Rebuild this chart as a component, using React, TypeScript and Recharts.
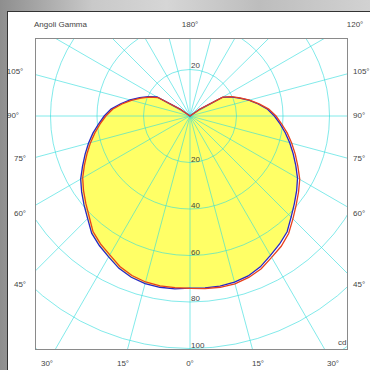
import React from "react";
import {
  RadarChart,
  Radar,
  PolarGrid,
  PolarAngleAxis,
  PolarRadiusAxis,
} from "recharts";

// gamma angles 0..180 step 5 (0 = straight down)
const gammaAngles = [
  0, 5, 10, 15, 20, 25, 30, 35, 40, 45, 50, 55, 60, 65, 70, 75, 80, 85, 90,
  95, 100, 105, 110, 115, 120, 125, 130, 135, 140, 145, 150, 155, 160, 165,
  170, 175, 180,
];

// candela, blue curve C0 (right half) and C180 (left half)
const c0 = [
  74.0, 74.2, 74.3, 74.0, 73.2, 71.6, 69.2, 67.2, 65.0, 61.5, 58.6, 56.0,
  53.4, 50.2, 47.2, 44.4, 41.6, 38.9, 36.3, 33.5, 29.8, 26.2, 22.6, 19.4,
  16.0, 5.0, 0, 0, 0, 0, 0, 0, 0, 0, 0, 0, 0,
];
const c180 = [
  74.2, 74.6, 74.8, 74.6, 73.8, 72.3, 70.0, 68.0, 65.8, 62.3, 59.5, 56.9,
  54.3, 51.0, 48.0, 45.2, 42.4, 39.5, 36.9, 34.1, 30.3, 26.7, 23.0, 19.8,
  16.4, 5.2, 0, 0, 0, 0, 0, 0, 0, 0, 0, 0, 0,
];
// red curve C90 (right half) and C270 (left half)
const c90 = [
  74.1, 74.5, 74.8, 74.7, 73.9, 72.5, 70.2, 68.4, 66.0, 62.6, 59.6, 57.0,
  54.5, 51.2, 48.2, 45.3, 42.5, 39.6, 37.0, 34.0, 30.2, 26.5, 22.9, 19.7,
  16.3, 5.1, 0, 0, 0, 0, 0, 0, 0, 0, 0, 0, 0,
];
const c270 = [
  73.9, 74.1, 74.2, 73.9, 73.0, 71.4, 69.0, 67.1, 64.9, 61.3, 58.5, 55.9,
  53.3, 50.1, 47.1, 44.3, 41.5, 38.8, 36.2, 33.4, 29.7, 26.1, 22.5, 19.3,
  15.9, 4.9, 0, 0, 0, 0, 0, 0, 0, 0, 0, 0, 0,
];

const ringTicks = [20, 40, 60, 80, 100, 120, 140];
const ringLabels = [20, 40, 60, 80, 100];
const radialAngles = [
  0, 15, 30, 45, 60, 75, 90, 105, 120, 135, 150, 165, 180, 195, 210, 225, 240,
  255, 270, 285, 300, 315, 330, 345,
];
const sideLabels = ["105°", "90°", "75°", "60°", "45°"];
const bottomLabels = ["30°", "15°", "0°", "15°", "30°"];

// one row per 5 deg around the full circle, right half = C0/C90
const data = [...gammaAngles.slice(0, 36), ...gammaAngles.slice(1, 36).map((g) => 360 - g)]
  .sort((a, b) => a - b)
  .map((a) => {
    const right = a <= 180;
    const i = gammaAngles.indexOf(right ? a : 360 - a);
    return {
      a,
      blue: right ? c0[i] : c180[i],
      red: right ? c90[i] : c270[i],
    };
  });

const R_MAX = 140;
const OUTER = 325.5;
const BOX_W = 311;
const BOX_H = 310;
const CX = 154;
const CY = 77;
const FONT = "Arial, 'Liberation Sans', sans-serif";
const GRID = "#2fdcdc";

const sideY = [72, 116, 159, 214, 285];
const leftX = [15, 13, 20, 20, 20];
const bottomX = [47, 123, 190, 258, 333];

const labelStyle = (x: number, y: number, anchor = "-50%"): React.CSSProperties => ({
  position: "absolute",
  left: x,
  top: y,
  transform: `translate(${anchor}, -50%)`,
  fontSize: 8,
  fontFamily: FONT,
  color: "#444",
  whiteSpace: "nowrap",
  lineHeight: 1,
});

const ringTickDown = (props: any) => (
  <text x={props.x + 1} y={props.y - 1} fontSize={8} fill="#444" fontFamily={FONT}>
    {props.payload.value}
  </text>
);

const angleAxis = (
  <PolarAngleAxis
    type="number"
    dataKey="a"
    domain={[0, 360]}
    tick={false}
    tickLine={false}
    axisLine={false}
  />
);

export default function App() {
  const polarRadius = ringTicks.map((t) => (t / R_MAX) * OUTER);
  const allAngles = radialAngles.map((a) => a - 90);
  // the diagonal pair is drawn by its own grid, nudged (it came out dark otherwise)
  const diagonal = [44.6, 225.05];
  const polarAngles = allAngles.filter((a) => a !== 45 && a !== 225);
  const chartProps = {
    width: BOX_W,
    height: BOX_H,
    data,
    cx: CX,
    cy: CY,
    outerRadius: OUTER,
    startAngle: -90,
    endAngle: 270,
    margin: { top: 0, right: 0, bottom: 0, left: 0 },
  };
  return (
    <div
      style={{
        position: "absolute",
        left: 0,
        top: 0,
        width: 370,
        height: 370,
        overflow: "hidden",
        background:
          "linear-gradient(90deg, #8e8e8e 0%, #c9c9c9 25%, #d6d6d6 45%, #bdbdbd 70%, #d2d2d2 100%)",
      }}
    >
      <div
        style={{
          position: "absolute",
          left: 7,
          top: 11,
          width: 370,
          height: 370,
          background: "#fff",
          borderTop: "1px solid #333",
          borderLeft: "1px solid #333",
        }}
      />
      <div
        style={{
          position: "absolute",
          left: 35,
          top: 38,
          width: BOX_W + 2,
          height: BOX_H + 2,
          boxSizing: "border-box",
          border: "1px solid #8a8a8a",
          overflow: "hidden",
        }}
      >
        <div style={{ position: "absolute", left: 0, top: 0 }}>
          <RadarChart {...chartProps}>
            <PolarGrid
              gridType="circle"
              polarRadius={[0.2]}
              polarAngles={diagonal}
              stroke={GRID}
              strokeOpacity={0.6}
            />
            {angleAxis}
            <PolarRadiusAxis
              angle={-90}
              domain={[0, R_MAX]}
              tick={false}
              tickLine={false}
              axisLine={false}
            />
          </RadarChart>
        </div>
        <div style={{ position: "absolute", left: 0, top: 0 }}>
          <RadarChart {...chartProps}>
            {angleAxis}
            <PolarRadiusAxis
              angle={-90}
              domain={[0, R_MAX]}
              tick={false}
              tickLine={false}
              axisLine={false}
            />
            <Radar
              dataKey="blue"
              stroke="none"
              fill="#ffff66"
              fillOpacity={1}
              isAnimationActive={false}
            />
          </RadarChart>
        </div>
        <div style={{ position: "absolute", left: 0, top: 0 }}>
          <RadarChart {...chartProps}>
            <PolarGrid
              gridType="circle"
              polarRadius={polarRadius}
              polarAngles={polarAngles}
              stroke={GRID}
              strokeOpacity={0.6}
            />
            {angleAxis}
            <PolarRadiusAxis
              angle={-90}
              domain={[0, R_MAX]}
              ticks={ringLabels}
              tick={ringTickDown}
              tickLine={false}
              axisLine={false}
            />
            <Radar
              dataKey="blue"
              stroke="#2626c8"
              strokeWidth={1.3}
              fill="none"
              fillOpacity={0}
              isAnimationActive={false}
            />
            <Radar
              dataKey="red"
              stroke="#e8401c"
              strokeWidth={1.3}
              fill="none"
              fillOpacity={0}
              isAnimationActive={false}
            />
          </RadarChart>
        </div>
        <div style={labelStyle(155, 27, "0%")}>20</div>
        <div style={labelStyle(302, 304, "0%")}>cd</div>
      </div>
      <div style={labelStyle(34, 25, "0%")}>Angoli Gamma</div>
      <div style={labelStyle(190, 25)}>180°</div>
      <div style={labelStyle(355, 25)}>120°</div>
      {sideLabels.map((t, i) => (
        <div key={"l" + i} style={labelStyle(leftX[i], sideY[i])}>
          {t}
        </div>
      ))}
      {sideLabels.map((t, i) => (
        <div key={"r" + i} style={labelStyle(353, sideY[i], "0%")}>
          {t}
        </div>
      ))}
      {bottomLabels.map((t, i) => (
        <div key={"b" + i} style={labelStyle(bottomX[i], 364)}>
          {t}
        </div>
      ))}
    </div>
  );
}
